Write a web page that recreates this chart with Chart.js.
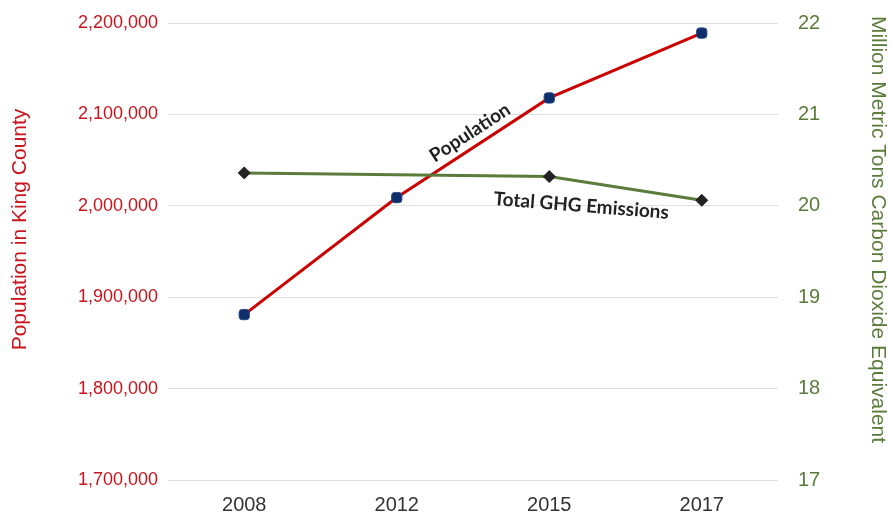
<!DOCTYPE html>
<html>
<head>
<meta charset="utf-8">
<script src="https://cdn.jsdelivr.net/npm/chart.js@4.4.0/dist/chart.umd.min.js"></script>
<style>
html,body{margin:0;padding:0;background:#fff;}
#wrap{width:891px;height:514px;position:relative;}
</style>
</head>
<body>
<div id="wrap"><canvas id="c"></canvas></div>
<script>
const years = ['2008', '2012', '2015', '2017'];
const population = [1881000, 2009000, 2118000, 2189000];
const ghgEmissions = [20.36, null, 20.32, 20.06];
const popTicks = [1700000, 1800000, 1900000, 2000000, 2100000, 2200000];
const ghgTicks = [17, 18, 19, 20, 21, 22];
const leftTitle = 'Population in King County';
const rightTitle = 'Million Metric Tons Carbon Dioxide Equivalent';

const RED = '#c8141c';
const GREEN = '#5b7b3a';
const FONT = '"Liberation Sans", Arial, sans-serif';

const annot = {
  id: 'annot',
  afterDatasetsDraw(chart) {
    const ctx = chart.ctx;
    const xs = chart.scales.x, y = chart.scales.y, y2 = chart.scales.y2;
    const xAt = f => {
      const i = Math.floor(f), t = f - i;
      const a = xs.getPixelForValue(i), b = xs.getPixelForValue(Math.min(i + 1, years.length - 1));
      return a + (b - a) * t;
    };
    ctx.save();
    ctx.fillStyle = '#222';
    ctx.font = 'bold 19px Lato, "Open Sans", sans-serif';
    ctx.textAlign = 'center';
    ctx.textBaseline = 'middle';
    ctx.save();
    ctx.translate(xAt(1.48), y.getPixelForValue(2080000));
    ctx.rotate(-33 * Math.PI / 180);
    ctx.fillText('Population', 0, 0);
    ctx.restore();
    ctx.save();
    ctx.translate(xAt(2.21), y2.getPixelForValue(20.0));
    ctx.rotate(4.5 * Math.PI / 180);
    ctx.fillText('Total GHG Emissions', 0, 0);
    ctx.restore();

    // axis titles
    const midY = (y.top + y.bottom) / 2 - 22;
    ctx.font = '21px ' + FONT;
    ctx.fillStyle = RED;
    ctx.save();
    ctx.translate(20, midY);
    ctx.rotate(-Math.PI / 2);
    ctx.fillText(leftTitle, 0, 0);
    ctx.restore();
    ctx.fillStyle = GREEN;
    ctx.save();
    ctx.translate(878, midY);
    ctx.rotate(Math.PI / 2);
    ctx.fillText(rightTitle, 0, 0);
    ctx.restore();
    ctx.restore();
  }
};

const fixPadY = s => { s.paddingTop = 23; s.paddingBottom = 0; };

new Chart(document.getElementById('c'), {
  type: 'line',
  data: {
    labels: years,
    datasets: [
      {
        label: 'Population',
        data: population,
        yAxisID: 'y',
        borderColor: '#cc0000',
        borderWidth: 3,
        pointStyle: 'rectRounded',
        pointRadius: 6,
        pointHoverRadius: 6,
        pointBackgroundColor: '#0d2d6b',
        pointBorderColor: '#2a4a85',
        pointBorderWidth: 1,
        tension: 0,
        order: 2
      },
      {
        label: 'Total GHG Emissions',
        data: ghgEmissions,
        yAxisID: 'y2',
        borderColor: GREEN,
        borderWidth: 3,
        pointStyle: 'rectRot',
        pointRadius: 6,
        pointHoverRadius: 6,
        pointBackgroundColor: '#222',
        pointBorderColor: '#222',
        pointBorderWidth: 1,
        spanGaps: true,
        tension: 0,
        order: 1
      }
    ]
  },
  options: {
    responsive: true,
    maintainAspectRatio: false,
    animation: false,
    layout: { padding: { top: 0, bottom: 1, left: 6, right: 2 } },
    plugins: { legend: { display: false }, tooltip: { enabled: false } },
    scales: {
      x: {
        offset: true,
        afterFit: s => { s.height = 33; s.paddingLeft = 0; s.paddingRight = 0; s.paddingTop = 0; s.paddingBottom = 0; },
        grid: { display: false, drawTicks: false },
        border: { display: false },
        ticks: { color: '#333', font: { family: FONT, size: 20 }, padding: 13 }
      },
      y: {
        position: 'left',
        min: 1700000, max: 2200000,
        afterBuildTicks: s => { s.ticks = popTicks.map(v => ({ value: v })); },
        afterFit: s => { fixPadY(s); s.width = 162; },
        grid: { color: '#e0e0e0', lineWidth: 1, drawTicks: false },
        border: { display: false },
        ticks: {
          color: RED, padding: 10,
          font: { family: FONT, size: 18 },
          callback: v => v.toLocaleString('en-US')
        },
        title: { display: false }
      },
      y2: {
        position: 'right',
        min: 17, max: 22,
        afterBuildTicks: s => { s.ticks = ghgTicks.map(v => ({ value: v })); },
        afterFit: s => { fixPadY(s); s.width = 111; },
        grid: { display: false, drawTicks: false },
        border: { display: false },
        ticks: {
          color: GREEN, padding: 20,
          font: { family: FONT, size: 20 }
        },
        title: { display: false }
      }
    }
  },
  plugins: [annot]
});
</script>
</body>
</html>
